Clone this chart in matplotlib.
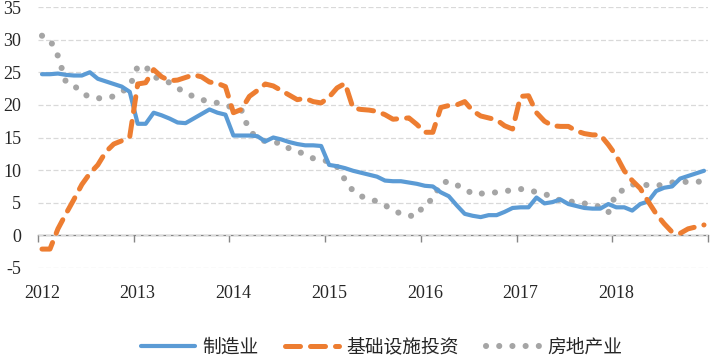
import numpy as np
import matplotlib
matplotlib.use("Agg")
import matplotlib.pyplot as plt

plt.rcParams['axes.unicode_minus'] = False

years = ['2012', '2013', '2014', '2015', '2016', '2017', '2018']
series_names = ['制造业', '基础设施投资', '房地产业']

manufacturing = [
    24.7, 24.7, 24.8, 24.6, 24.5, 24.5, 25.0, 24.0, 23.6, 23.2, 22.8, 22.0,
    17.1, 17.1, 18.8, 18.4, 17.9, 17.3, 17.2, 17.9, 18.6, 19.3, 18.8, 18.5,
    15.3, 15.3, 15.3, 15.2, 14.4, 15.0, 14.7, 14.3, 14.0, 13.8, 13.8, 13.7,
    10.8, 10.6, 10.3, 9.9, 9.6, 9.3, 9.0, 8.4, 8.3, 8.3, 8.1, 7.9,
    7.6, 7.5, 6.6, 6.0, 4.6, 3.3, 3.0, 2.8, 3.1, 3.1, 3.6, 4.2,
    4.3, 4.3, 5.8, 4.9, 5.1, 5.5, 4.8, 4.5, 4.2, 4.1, 4.1, 4.8,
    4.3, 4.3, 3.8, 4.8, 5.2, 6.8, 7.3, 7.5, 8.7, 9.1, 9.5, 9.9,
]

infrastructure = [
    -2.1, -2.1, 1.0, 3.3, 5.5, 7.8, 9.5, 10.8, 12.8, 14.0, 14.5, 15.1,
    23.2, 23.4, 25.4, 24.3, 23.7, 23.8, 24.2, 24.6, 24.3, 23.5, 23.3, 22.8,
    18.8, 19.3, 21.3, 22.2, 23.2, 22.9, 22.2, 21.5, 20.8, 21.0, 20.5, 20.3,
    21.2, 22.6, 23.3, 19.5, 19.3, 19.2, 19.0, 18.5, 17.8, 17.9, 18.0, 17.0,
    15.8, 15.8, 19.6, 19.9, 20.0, 20.5, 19.1, 18.3, 18.0, 17.7, 16.8, 16.3,
    21.3, 21.4, 18.8, 17.5, 16.8, 16.7, 16.7, 16.0, 15.6, 15.4, 15.4, 13.9,
    12.2, 9.9, 8.4, 7.2, 5.2, 3.3, 1.8, 0.5, 0.3, 1.0, 1.3, 1.6,
]

real_estate = [
    30.6, 30.0, 27.5, 23.5, 23.0, 21.8, 21.2, 21.0, 21.1, 21.3, 22.0, 22.8,
    25.9, 25.9, 24.3, 23.9, 23.4, 22.6, 21.8, 21.3, 20.8, 20.5, 20.3, 20.0,
    19.5, 19.2, 16.0, 15.0, 14.4, 14.2, 14.2, 13.3, 12.9, 12.4, 11.8, 11.6,
    11.3, 10.5, 8.5, 6.8, 6.0, 5.6, 5.2, 4.6, 3.9, 3.3, 3.0, 3.0,
    4.9, 5.5, 8.0, 8.3, 7.7, 7.2, 6.3, 6.4, 6.5, 6.6, 6.8, 6.9,
    7.1, 7.0, 6.6, 6.3, 6.0, 5.3, 5.2, 5.1, 4.9, 4.6, 4.4, 3.5,
    6.5, 7.0, 7.8, 7.8, 7.7, 7.6, 7.8, 8.1, 8.2, 8.2, 8.2, 8.3,
]

months = np.arange(len(manufacturing))

BLUE = '#5B9BD5'
ORANGE = '#ED7D31'
GRAY = '#A5A5A5'
GRID = '#D9D9D9'
AXIS = '#868686'

fig = plt.figure(figsize=(7.13, 3.6), dpi=100)
ax = fig.add_axes([38 / 713, 1 - 268 / 360, 670 / 713, 261 / 360])

ax.plot(months, manufacturing, color=BLUE, lw=3.0, solid_capstyle='round',
        solid_joinstyle='round', label=series_names[0], zorder=3)
ax.plot(months, infrastructure, color=ORANGE, lw=3.6, dash_capstyle='round',
        dash_joinstyle='round', dashes=(3.0, 2.0), label=series_names[1], zorder=4)
ax.plot(months, real_estate, color=GRAY, lw=4.4, dash_capstyle='round',
        dashes=(0.01, 2.15), label=series_names[2], zorder=2)

ax.set_xlim(-0.5, len(months) - 0.5)
ax.set_ylim(-5, 35)
ax.set_yticks(np.arange(-5, 36, 5))
ax.yaxis.grid(True, color=GRID, linestyle=(0, (4, 2)), linewidth=0.9)
ax.set_axisbelow(True)
for s in ax.spines.values():
    s.set_visible(False)

serif = 'Liberation Serif'
ax.tick_params(axis='y', length=0, pad=12, labelsize=13, labelcolor='#262626')
for lab in ax.get_yticklabels():
    lab.set_fontfamily(serif)

ax.set_xticks(np.arange(0, len(months), 12))
ax.set_xticklabels(years, fontfamily=serif, fontsize=13, color='#262626')
ax.tick_params(axis='x', length=0, pad=12)

sec = ax.secondary_xaxis(5 / 40)
sec.set_xticks(np.arange(-0.5, len(months), 12))
sec.tick_params(axis='x', length=5, width=1, color=AXIS, labelbottom=False)
sec.spines['bottom'].set_color(AXIS)
sec.spines['bottom'].set_linewidth(1.0)

leg = fig.legend(loc='center', bbox_to_anchor=(0.535, 0.036), ncol=3,
                 frameon=False, handlelength=2.9, columnspacing=1.4,
                 handletextpad=0.4,
                 prop={'family': ['Noto Sans CJK SC', 'DejaVu Sans'], 'size': 13.5})
for t in leg.get_texts():
    t.set_color('#262626')

fig.savefig('out.png', dpi=100)
